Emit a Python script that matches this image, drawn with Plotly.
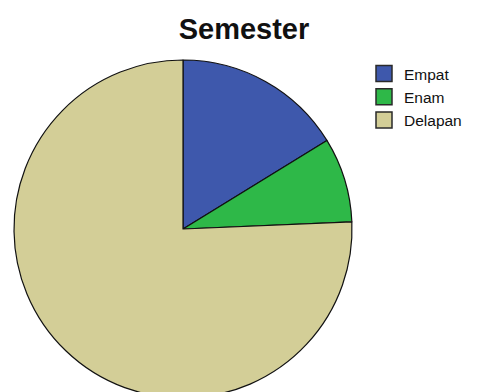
import plotly.graph_objects as go

labels = ["Empat", "Enam", "Delapan"]
values = [6, 3, 28]
colors = ["#3E58AC", "#2EB848", "#D3CE97"]

W, H = 483, 430
cx, cy, r = 183, 229, 169

fig = go.Figure()
fig.add_trace(go.Pie(
    labels=labels,
    values=values,
    sort=False,
    direction="clockwise",
    rotation=0,
    textinfo="none",
    hoverinfo="label+percent",
    showlegend=False,
    marker=dict(colors=colors, line=dict(color="#111111", width=1.2)),
    domain=dict(x=[(cx - r) / W, (cx + r) / W],
                y=[1 - (cy + r) / H, 1 - (cy - r) / H]),
))

# legend entries (larger square swatches, like the original)
for lab, col in zip(labels, colors):
    fig.add_trace(go.Scatter(
        x=[None], y=[None], mode="markers", name=lab,
        marker=dict(symbol="square", size=18, color=col,
                    line=dict(color="#2a2a2a", width=1.5)),
        showlegend=True, hoverinfo="skip",
    ))

fig.update_layout(
    width=W, height=H,
    margin=dict(l=0, r=0, t=0, b=0),
    paper_bgcolor="white",
    plot_bgcolor="white",
    xaxis=dict(visible=False),
    yaxis=dict(visible=False),
    title=dict(text="<b>Semester</b>", x=244 / W, xanchor="center",
               y=1 - 29 / H, yanchor="middle",
               font=dict(family="Liberation Sans, Arial", size=29, color="#111111")),
    legend=dict(x=364 / W, xanchor="left", y=1 - 57 / H, yanchor="top",
                font=dict(family="Liberation Sans, Arial", size=15.5, color="#111111"),
                itemwidth=30, tracegroupgap=0,
                bgcolor="rgba(0,0,0,0)"),
)

fig.write_html("out.html")
